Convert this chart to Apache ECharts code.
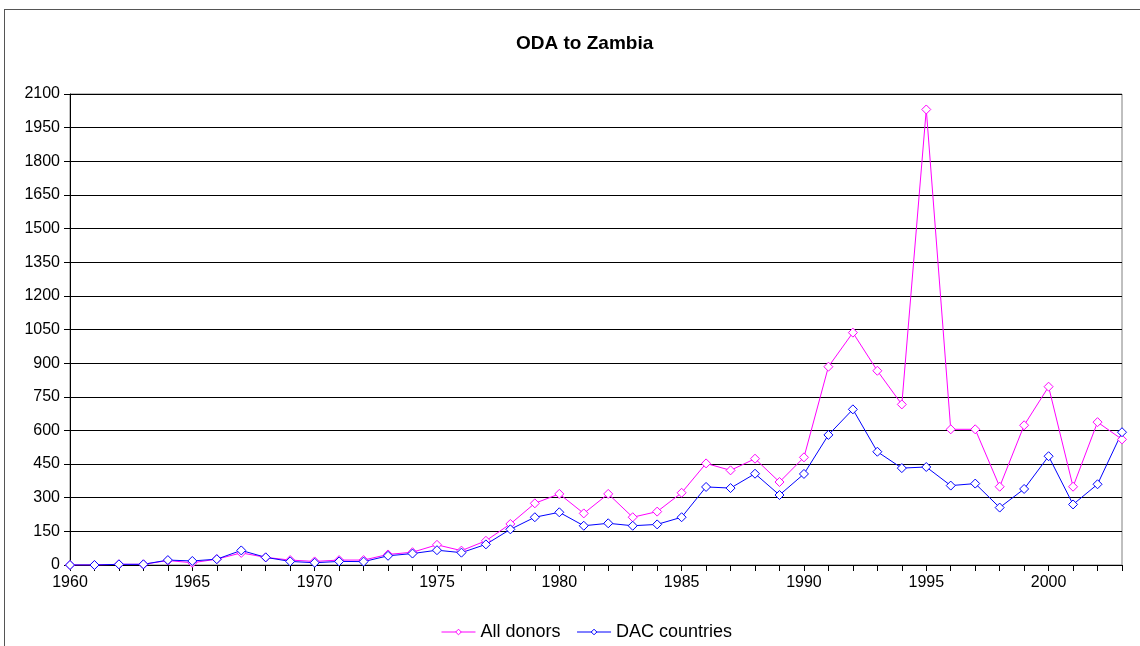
<!DOCTYPE html>
<html>
<head>
<meta charset="utf-8">
<script src="https://cdn.jsdelivr.net/npm/echarts@6/dist/echarts.min.js"></script>
<style>
  html, body { margin:0; padding:0; background:#fff; }
  #frame { position:absolute; left:4px; top:9px; width:1140px; height:640px; border-left:1px solid #555; border-top:1px solid #555; }
  #chart { position:absolute; left:0; top:0; width:1140px; height:646px; }
</style>
</head>
<body>
<div id="frame"></div>
<div id="chart"></div>
<script>
// years on the x axis
var years = [];
for (var y = 1960; y <= 2003; y++) years.push(String(y));

// All donors, 1960-2003
var allDonors = [0, 0, 3, 3, 20, 10, 26, 54, 34, 22, 16, 22, 22, 47, 57, 90,
  64, 108, 183, 275, 317, 230, 317, 213, 238, 322, 453, 422, 474, 370,
  480, 884, 1036, 866, 716, 2031, 605, 605, 349, 623, 795, 349, 637, 560];

// DAC countries, 1960-2003
var dacCountries = [0, 0, 3, 3, 22, 18, 26, 65, 34, 16, 10, 16, 15, 41, 51, 66,
  55, 92, 159, 213, 235, 175, 186, 175, 181, 213, 348, 343, 407, 312,
  406, 580, 694, 505, 432, 437, 354, 363, 256, 339, 485, 270, 360, 592];

var seriesNames = ['All donors', 'DAC countries'];
var seriesColors = ['#FF00FF', '#0000FF'];

var myChart = echarts.init(document.getElementById('chart'));

function lineSeries(name, data, color) {
  return {
    name: name,
    type: 'line',
    data: data,
    symbol: 'diamond',
    symbolSize: 9,
    showAllSymbol: true,
    lineStyle: { color: color, width: 1 },
    itemStyle: { color: '#fff', borderColor: color, borderWidth: 1 },
    emphasis: { disabled: true }
  };
}

var option = {
  animation: false,
  textStyle: { fontFamily: 'Liberation Sans, Arial, sans-serif' },
  title: {
    text: 'ODA to Zambia',
    left: 511,
    top: 29,
    textStyle: { fontSize: 19, fontWeight: 'bold', color: '#000', fontFamily: 'Liberation Sans, Arial, sans-serif' }
  },
  legend: {
    top: 618,
    left: 436,
    itemWidth: 34,
    itemHeight: 7,
    itemGap: 16,
    textStyle: { fontSize: 18, color: '#000' },
    data: seriesNames.map(function (n, i) {
      return {
        name: n,
        itemStyle: { color: '#fff', borderColor: seriesColors[i], borderWidth: 1 },
        lineStyle: { color: seriesColors[i], width: 1 }
      };
    })
  },
  grid: {
    left: 70, right: 18, top: 94, bottom: 81,
    show: true, borderColor: '#808080', borderWidth: 1,
    containLabel: false
  },
  xAxis: {
    type: 'category',
    data: years,
    boundaryGap: false,
    axisLine: { lineStyle: { color: '#000', width: 1 } },
    axisTick: { show: true, interval: 0, length: 6, lineStyle: { color: '#000' } },
    axisLabel: { interval: 4, color: '#000', fontSize: 16, margin: 10 },
    splitLine: { show: false }
  },
  yAxis: {
    type: 'value',
    min: 0, max: 2100, interval: 150,
    axisLine: { show: true, lineStyle: { color: '#000', width: 1 } },
    axisTick: { show: true, length: 6, lineStyle: { color: '#000' } },
    axisLabel: { color: '#000', fontSize: 16, margin: 10, formatter: function (v) { return String(v); } },
    splitLine: { show: true, lineStyle: { color: '#000', width: 1 } }
  },
  series: [
    lineSeries(seriesNames[0], allDonors, seriesColors[0]),
    lineSeries(seriesNames[1], dacCountries, seriesColors[1])
  ]
};
myChart.setOption(option);
</script>
</body>
</html>
